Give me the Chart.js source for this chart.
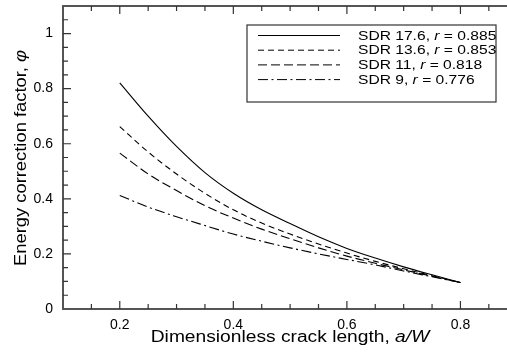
<!DOCTYPE html>
<html>
<head>
<meta charset="utf-8">
<script src="https://cdn.jsdelivr.net/npm/chart.js@4/dist/chart.umd.min.js"></script>
<style>
  html, body { margin: 0; padding: 0; background: #fff; }
  #wrap { width: 507px; height: 353px; }
</style>
</head>
<body>
<div id="wrap"><canvas id="myChart" width="507" height="353"></canvas></div>
<script>
// a/W values along the curves
var crack = [0.2, 0.25, 0.3, 0.35, 0.4, 0.45, 0.5, 0.55, 0.6, 0.65, 0.7, 0.75, 0.8];
// energy correction factor phi for each SDR
var sdr176 = [0.821, 0.70, 0.59, 0.495, 0.42, 0.36, 0.31, 0.262, 0.22, 0.185, 0.153, 0.124, 0.096];
var sdr136 = [0.662, 0.57, 0.49, 0.42, 0.36, 0.312, 0.272, 0.236, 0.203, 0.173, 0.146, 0.121, 0.096];
var sdr11  = [0.566, 0.49, 0.43, 0.375, 0.33, 0.29, 0.255, 0.222, 0.192, 0.166, 0.142, 0.119, 0.096];
var sdr9   = [0.412, 0.37, 0.335, 0.303, 0.272, 0.246, 0.222, 0.2, 0.18, 0.16, 0.138, 0.117, 0.096];
var seriesNames = ['SDR 17.6', 'SDR 13.6', 'SDR 11', 'SDR 9'];
var rValues = ['0.885', '0.853', '0.818', '0.776'];
var xTicks = [0.2, 0.4, 0.6, 0.8];
var yTicks = [0, 0.2, 0.4, 0.6, 0.8, 1];

var dashes = [[], [6, 4], [9, 4], [10, 3.5, 2, 3.5]];
var FONT = '"Liberation Sans", Arial, sans-serif';
var STRETCH = 1.2; // reference text is a bit wider than tall

function pts(ys) {
  return crack.map(function (x, i) { return {x: x, y: ys[i]}; });
}

var decor = {
  id: 'decor',
  afterDraw: function (chart) {
    var ctx = chart.ctx, a = chart.chartArea;
    var xs = chart.scales.x, ys = chart.scales.y;
    ctx.save();
    // frame (left, bottom, top)
    ctx.strokeStyle = '#555';
    ctx.lineWidth = 2;
    ctx.beginPath();
    ctx.moveTo(chart.width + 5, a.top); ctx.lineTo(a.left, a.top);
    ctx.lineTo(a.left, a.bottom); ctx.lineTo(chart.width + 5, a.bottom);
    ctx.stroke();
    // inward ticks
    ctx.lineWidth = 1.2;
    ctx.strokeStyle = '#333';
    ctx.beginPath();
    for (var k = 3; k <= 18; k++) {
      var px = xs.getPixelForValue(k / 20);
      if (px > chart.width) continue;
      var len = (k % 4 === 0) ? 8 : 5;
      ctx.moveTo(px, a.bottom); ctx.lineTo(px, a.bottom - len);
      ctx.moveTo(px, a.top); ctx.lineTo(px, a.top + len);
    }
    for (var j = 1; j <= 21; j++) {
      var py = ys.getPixelForValue(j / 20);
      var l2 = (j % 4 === 0) ? 8 : 5;
      ctx.moveTo(a.left, py); ctx.lineTo(a.left + l2, py);
    }
    ctx.stroke();

    // text made of normal + italic parts
    ctx.fillStyle = '#000';
    ctx.textBaseline = 'middle';
    ctx.textAlign = 'left';
    function mixed(parts, size, sx, x, y, centre) {
      ctx.save();
      ctx.translate(x, y);
      ctx.scale(sx, 1);
      var w = 0;
      parts.forEach(function (p) { ctx.font = p[1] + ' ' + size + 'px ' + FONT; w += ctx.measureText(p[0]).width; });
      var cx = centre ? -w / 2 : 0;
      parts.forEach(function (p) {
        ctx.font = p[1] + ' ' + size + 'px ' + FONT;
        ctx.fillText(p[0], cx, 0);
        cx += ctx.measureText(p[0]).width;
      });
      ctx.restore();
    }
    mixed([['Dimensionless crack length, ', 'normal'], ['a/W', 'italic']], 16, STRETCH, 290, 338, true);
    ctx.save();
    ctx.translate(21, 158);
    ctx.rotate(-Math.PI / 2);
    mixed([['Energy correction factor, ', 'normal'], ['\u03c6', 'italic']], 17, 1.08, 0, 0, true);
    ctx.restore();

    // legend box
    var bx = 247, by = 25, bw = 249, bh = 77;
    ctx.fillStyle = '#fff';
    ctx.fillRect(bx, by, bw, bh);
    ctx.strokeStyle = '#333';
    ctx.lineWidth = 1.2;
    ctx.strokeRect(bx, by, bw, bh);
    chart.data.datasets.forEach(function (ds, i) {
      var y = by + 10.5 + i * 14.7;
      ctx.strokeStyle = '#000';
      ctx.lineWidth = 1;
      ctx.setLineDash(ds.borderDash || []);
      ctx.beginPath();
      ctx.moveTo(258, y); ctx.lineTo(340, y);
      ctx.stroke();
      ctx.setLineDash([]);
      ctx.fillStyle = '#000';
      mixed([[seriesNames[i] + ', ', 'normal'], ['r', 'italic'], [' = ' + rValues[i], 'normal']], 13, STRETCH, 358, y + 0.5, false);
    });
    ctx.restore();
  }
};

function fmt(v) { return String(Math.round(v * 10) / 10); }

var ctx = document.getElementById('myChart').getContext('2d');
var chart = new Chart(ctx, {
  type: 'line',
  data: {
    datasets: [sdr176, sdr136, sdr11, sdr9].map(function (s, i) {
      return {
        label: seriesNames[i],
        data: pts(s),
        borderColor: '#000',
        borderWidth: 1.1,
        borderDash: dashes[i],
        pointRadius: 0,
        fill: false,
        cubicInterpolationMode: 'monotone'
      };
    })
  },
  options: {
    responsive: false,
    animation: false,
    layout: { padding: { top: 6, right: 0, left: 0, bottom: 0 } },
    plugins: { legend: { display: false }, tooltip: { enabled: false } },
    scales: {
      x: {
        type: 'linear',
        min: 0.1,
        max: 0.882,
        grid: { display: false },
        border: { display: false },
        afterBuildTicks: function (s) { s.ticks = xTicks.map(function (v) { return {value: v}; }); },
        afterFit: function (s) { s.height = 44; s.paddingLeft = 0; s.paddingRight = 0; },
        ticks: { padding: 0, color: '#000', font: { family: FONT, size: 14 }, maxRotation: 0, callback: fmt }
      },
      y: {
        min: 0,
        max: 1.1,
        grid: { display: false },
        border: { display: false },
        afterBuildTicks: function (s) { s.ticks = yTicks.map(function (v) { return {value: v}; }); },
        afterFit: function (s) { s.width = 63; s.paddingTop = 0; s.paddingBottom = 0; },
        ticks: { padding: 2, color: '#000', font: { family: FONT, size: 14 }, callback: fmt }
      }
    }
  },
  plugins: [decor]
});
</script>
</body>
</html>
